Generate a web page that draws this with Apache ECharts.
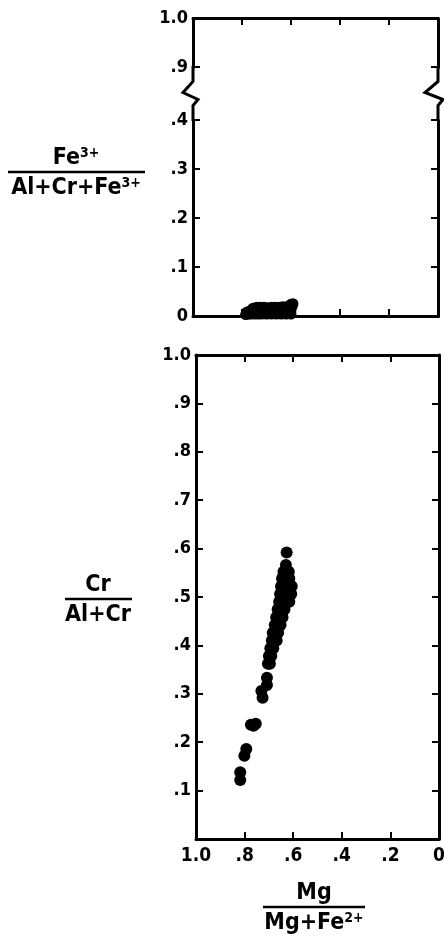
<!DOCTYPE html>
<html>
<head>
<meta charset="utf-8">
<script src="https://cdn.jsdelivr.net/npm/echarts@6.0.0/dist/echarts.min.js"></script>
<style>
  html, body { margin: 0; padding: 0; background: #fff; }
  #main { width: 444px; height: 939px; }
</style>
</head>
<body>
<div id="main"></div>
<script>
// top panel: Fe3+/(Al+Cr+Fe3+) against Mg/(Mg+Fe2+)
var top_mg = [0.785, 0.775, 0.765, 0.750, 0.735, 0.720, 0.700, 0.680, 0.660, 0.640, 0.620, 0.600,
  0.780, 0.765, 0.750, 0.735, 0.720, 0.705, 0.690, 0.675, 0.660, 0.645, 0.630, 0.615, 0.600,
  0.755, 0.740, 0.725, 0.710, 0.695, 0.680, 0.665, 0.650, 0.635, 0.620, 0.605, 0.595,
  0.600, 0.592];
var top_fe3 = [0.003, 0.004, 0.004, 0.004, 0.004, 0.004, 0.004, 0.004, 0.004, 0.004, 0.004, 0.004,
  0.008, 0.011, 0.012, 0.012, 0.012, 0.012, 0.012, 0.012, 0.012, 0.012, 0.012, 0.012, 0.012,
  0.016, 0.018, 0.018, 0.018, 0.017, 0.018, 0.018, 0.018, 0.019, 0.019, 0.020, 0.020,
  0.024, 0.025];

// bottom panel: Cr/(Al+Cr) against Mg/(Mg+Fe2+)
var bot_mg = [0.818, 0.818, 0.801, 0.793, 0.774, 0.763, 0.754, 0.726, 0.731, 0.708, 0.708,
  0.704, 0.696, 0.700, 0.690, 0.694, 0.682, 0.688, 0.676, 0.668, 0.684, 0.670, 0.662,
  0.676, 0.664, 0.652, 0.670, 0.656, 0.644, 0.664, 0.648, 0.636,
  0.658, 0.640, 0.628, 0.616, 0.654, 0.636, 0.622, 0.608, 0.650, 0.632, 0.618, 0.606,
  0.646, 0.630, 0.616, 0.640, 0.626, 0.618, 0.630, 0.627];
var bot_cr = [0.122, 0.138, 0.172, 0.186, 0.236, 0.234, 0.238, 0.292, 0.306, 0.318, 0.333,
  0.362, 0.362, 0.378, 0.378, 0.394, 0.394, 0.410, 0.410, 0.410, 0.426, 0.426, 0.426,
  0.442, 0.442, 0.442, 0.458, 0.458, 0.458, 0.474, 0.474, 0.474,
  0.490, 0.490, 0.490, 0.490, 0.506, 0.506, 0.506, 0.506, 0.522, 0.522, 0.522, 0.522,
  0.538, 0.538, 0.538, 0.552, 0.552, 0.552, 0.566, 0.592];

var tickFont = '"DejaVu Sans Condensed", "DejaVu Sans", sans-serif';
var titleFont = '"DejaVu Sans Condensed", "DejaVu Sans", sans-serif';

function pairs(xs, ys) {
  var out = [];
  for (var i = 0; i < xs.length; i++) out.push([xs[i], ys[i]]);
  return out;
}

function fmt(showZero) {
  return function (v) {
    var s = (Math.round(v * 10) / 10).toFixed(1);
    if (s === '1.0') return '1.0';
    if (s === '0.0') return showZero ? '0' : '';
    return s.replace('0.', '.');
  };
}

function xAx(grid, pos, labels) {
  return {
    type: 'value', gridIndex: grid, position: pos, min: 0, max: 1, interval: 0.2, inverse: true,
    splitLine: { show: false },
    axisLine: { onZero: false, lineStyle: { color: '#000', width: 3 } },
    axisTick: { inside: true, length: 7, lineStyle: { color: '#000', width: 2 } },
    axisLabel: { show: labels, formatter: fmt(true), color: '#000', fontFamily: tickFont,
      fontWeight: 'bold', fontSize: 19, margin: 8 }
  };
}

function yAx(grid, pos, labels, showZero, withBreak) {
  var a = {
    type: 'value', gridIndex: grid, position: pos, min: 0, max: 1, interval: 0.1,
    splitLine: { show: false },
    axisLine: { onZero: false, lineStyle: { color: '#000', width: 3 } },
    axisTick: { inside: true, length: 7, lineStyle: { color: '#000', width: 2 } },
    axisLabel: { show: labels, formatter: fmt(showZero), color: '#000', fontFamily: tickFont,
      fontWeight: 'bold', fontSize: 18, margin: 5 }
  };
  if (withBreak) {
    a.breaks = [{ start: 0.4, end: 0.9, gap: '17.8%' }];
    a.breakArea = { show: false };
  }
  return a;
}

var chart = echarts.init(document.getElementById('main'));

var option = {
  backgroundColor: '#fff',
  animation: false,
  grid: [
    { left: 193, top: 18, width: 245, height: 298, outerBoundsMode: 'none' },
    { left: 196, top: 355, width: 243, height: 484, outerBoundsMode: 'none' }
  ],
  xAxis: [xAx(0, 'bottom', false), xAx(0, 'top', false), xAx(1, 'bottom', true), xAx(1, 'top', false)],
  yAxis: [yAx(0, 'left', true, true, true), yAx(0, 'right', false, true, true),
    yAx(1, 'left', true, false, false), yAx(1, 'right', false, false, false)],
  series: [
    { type: 'scatter', xAxisIndex: 0, yAxisIndex: 0, symbolSize: 11, clip: false,
      itemStyle: { color: '#000', opacity: 1 }, data: pairs(top_mg, top_fe3) },
    { type: 'scatter', xAxisIndex: 2, yAxisIndex: 2, symbolSize: 12, clip: false,
      itemStyle: { color: '#000', opacity: 1 }, data: pairs(bot_mg, bot_cr) }
  ]
};
chart.setOption(option);

// axis titles (stacked fractions) and the zigzag marks of the broken axis
function fraction(cx, lineY, x1, x2, num, den) {
  var rich = {
    b: { fontFamily: titleFont, fontWeight: 'bold', fontSize: 23, fill: '#000', lineHeight: 24 },
    s: { fontFamily: titleFont, fontWeight: 'bold', fontSize: 14, fill: '#000', verticalAlign: 'top', lineHeight: 24 }
  };
  return [
    { type: 'line', shape: { x1: x1, y1: lineY, x2: x2, y2: lineY }, style: { stroke: '#000', lineWidth: 2.5 } },
    { type: 'text', x: cx, y: lineY - 14, style: { text: num, rich: rich, align: 'center', verticalAlign: 'middle' } },
    { type: 'text', x: cx, y: lineY + 16, style: { text: den, rich: rich, align: 'center', verticalAlign: 'middle' } }
  ];
}

var g = [];
g = g.concat(fraction(76, 172, 8, 145, '{b|Fe}{s|3+}', '{b|Al+Cr+Fe}{s|3+}'));
g = g.concat(fraction(98, 599, 65, 132, '{b|Cr}', '{b|Al+Cr}'));
g = g.concat(fraction(314, 907, 263, 365, '{b|Mg}', '{b|Mg+Fe}{s|2+}'));

// the axis lines through the break, with a zigzag on each side
var yA = chart.convertToPixel({ yAxisIndex: 0 }, 0.4);
var yB = chart.convertToPixel({ yAxisIndex: 0 }, 0.9);
var midY = (yA + yB) / 2;
[[1, -10], [0, -13]].forEach(function (s) {
  var ax = chart.convertToPixel({ xAxisIndex: 0 }, s[0]);
  g.push({ type: 'polyline', z: 101,
    shape: { points: [[ax, yB - 1], [ax, midY - 12], [ax + s[1], midY - 1], [ax + 5, midY + 6], [ax, midY + 12], [ax, yA + 1]] },
    style: { stroke: '#000', lineWidth: 3, fill: null, lineJoin: 'miter' } });
});

chart.setOption({ graphic: g });
</script>
</body>
</html>
